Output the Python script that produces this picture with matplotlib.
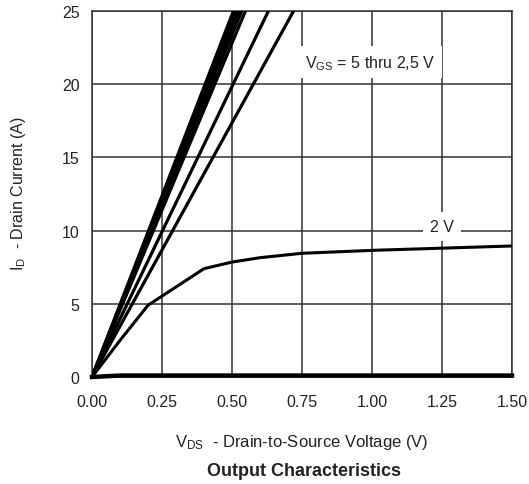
import matplotlib
matplotlib.use("Agg")
import matplotlib.pyplot as plt

plt.rcParams['font.family'] = ['Liberation Sans', 'DejaVu Sans']
plt.rcParams['mathtext.fontset'] = 'custom'
plt.rcParams['mathtext.rm'] = 'Liberation Sans'
plt.rcParams['mathtext.it'] = 'Liberation Sans'

# Linear-region curves (VGS = 5 thru 2.5 V): two points each (origin and I=25 A)
vgs_high = ['5 V', '4.5 V', '4 V', '3.5 V', '3.25 V', '3 V', '2.5 V']
vds_at_25A = [0.505, 0.515, 0.525, 0.535, 0.548, 0.63, 0.72]
id_end = [0.0, 25.0]

# VGS = 2 V curve
vds_2v = [0.0, 0.1, 0.2, 0.3, 0.4, 0.5, 0.6, 0.75, 1.0, 1.25, 1.5]
id_2v = [0.0, 2.5, 4.9, 6.15, 7.4, 7.85, 8.15, 8.45, 8.65, 8.8, 8.95]

# VGS = 1.5 V curve (near zero)
vds_low = [0.0, 0.1, 1.5]
id_low = [0.0, 0.1, 0.1]

xticks = [0.0, 0.25, 0.5, 0.75, 1.0, 1.25, 1.5]
yticks = [0, 5, 10, 15, 20, 25]

fig = plt.figure(figsize=(5.29, 4.85), dpi=100)
ax = fig.add_axes([92/529, 1-378/485, 420/529, 366/485])

txt = '#222222'
for v in vds_at_25A:
    ax.plot([0.0, v], id_end, color='black', lw=2.3, solid_capstyle='butt', zorder=3)
ax.plot(vds_2v, id_2v, color='black', lw=2.2, zorder=3)
ax.plot(vds_low, id_low, color='black', lw=3.2, zorder=3, clip_on=False)

ax.set_xlim(0, 1.5)
ax.set_ylim(0, 25)
ax.set_xticks(xticks)
ax.set_yticks(yticks)
ax.set_xticklabels([f'{t:.2f}' for t in xticks])
ax.set_yticklabels([str(t) for t in yticks])
ax.tick_params(length=0, labelsize=11.5, colors=txt)
ax.tick_params(axis='x', pad=12)
ax.tick_params(axis='y', pad=9)
ax.grid(True, color='#333333', lw=1.1)
ax.set_axisbelow(True)
for s in ax.spines.values():
    s.set_color('#333333')
    s.set_linewidth(1.1)

ax.text(0.993, 21.5, r'V$_{\mathrm{GS}}$ = 5 thru 2,5 V', fontsize=11.5, color=txt,
        ha='center', va='center', zorder=4,
        bbox=dict(facecolor='white', edgecolor='none', pad=5))
ax.text(1.25, 10.3, '2 V', fontsize=11.5, color=txt, ha='center', va='center', zorder=4,
        bbox=dict(facecolor='white', edgecolor='none', pad=5))

fig.text(302/529, 1-443/485, r'V$_{\mathrm{DS}}$  - Drain-to-Source Voltage (V)', fontsize=12,
         color=txt, ha='center', va='center')
fig.text(304/529, 1-472/485, 'Output Characteristics', fontsize=13, fontweight='bold',
         color=txt, ha='center', va='center')
fig.text(19/529, 1-194/485, r'I$_{\mathrm{D}}$  - Drain Current (A)', fontsize=11.5,
         color=txt, ha='center', va='center', rotation=90)

fig.savefig('out.png', dpi=100)
